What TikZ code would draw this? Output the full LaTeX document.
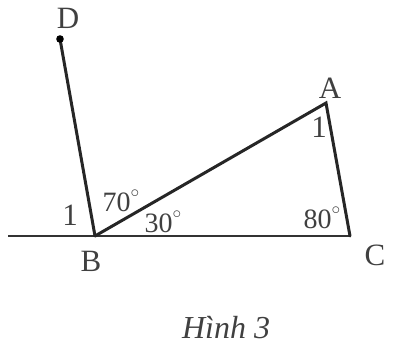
\documentclass[tikz,border=0pt]{standalone}
\usepackage{fontspec}
\setmainfont{Liberation Serif}
\begin{document}
\begin{tikzpicture}[x=1pt,y=-1pt,
  seg/.style={line width=3pt, black!85, line cap=round},
  base/.style={line width=2.2pt, black!80},
  lbl/.style={font=\fontsize{31}{33}\selectfont, text=black!75, inner sep=0pt},
  deg/.style={font=\fontsize{28}{30}\selectfont, text=black!75, inner sep=0pt}]
\newcommand{\dg}{\raisebox{0.5em}{\fontsize{17}{17}\selectfont$\circ$}}
\useasboundingbox (0,0) rectangle (401,360);
\coordinate (L) at (8,236);
\coordinate (B) at (95,236);
\coordinate (C) at (350,236);
\coordinate (A) at (326,103);
\coordinate (D) at (60,39);
\draw[base] (L) -- (C);
\draw[seg] (B) -- (D);
\draw[seg] (B) -- (A) -- (C);
\fill (D) circle (3.8pt);
\node[lbl] (lD) at (68,18) {D};
\node[lbl] (lA) at (330,88) {A};
\node[lbl] (lB) at (91,261) {B};
\node[lbl] (lC) at (375,255) {C};
\node[lbl] (one1) at (70,215) {1};
\node[lbl] (one2) at (319,127) {1};
\node[deg] (a70) at (121,201) {70\dg};
\node[deg] (a30) at (163,222) {30\dg};
\node[deg] (a80) at (322,218) {80\dg};
\node[font=\fontsize{32}{34}\selectfont\itshape, text=black!75] (cap) at (226,328) {Hình 3};
\end{tikzpicture}
\end{document}
